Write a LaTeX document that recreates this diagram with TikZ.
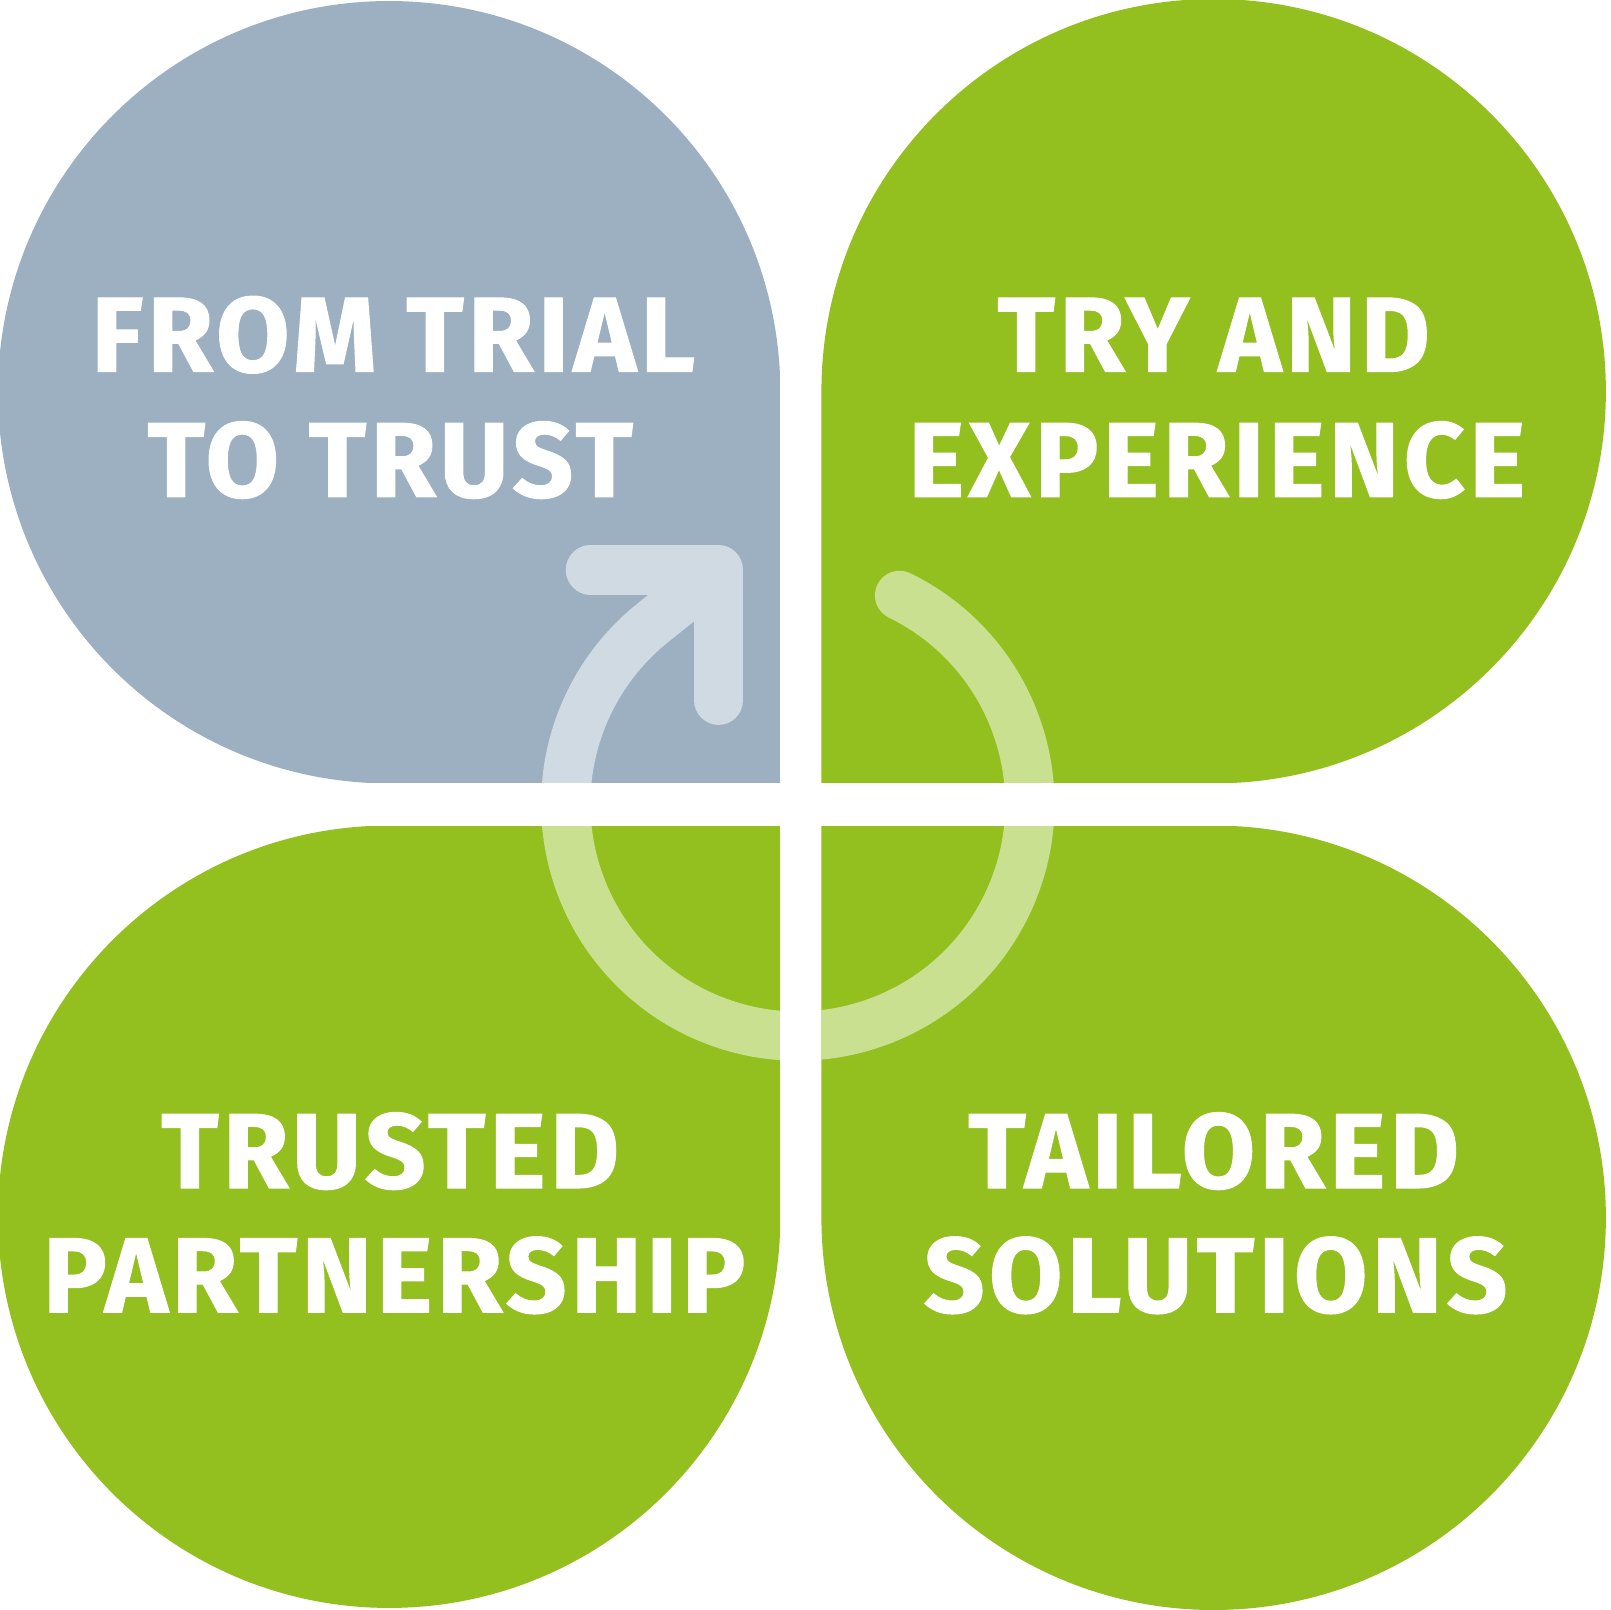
\documentclass[tikz,border=0pt]{standalone}
\usepackage{fontspec}
\setmainfont{Fira Sans}
\usepackage{tikz}
\usetikzlibrary{positioning,calc}
\definecolor{SteelGray}{HTML}{9CB0C1}
\definecolor{PaleSteel}{HTML}{CFDAE3}
\definecolor{LeafGreen}{HTML}{93C01F}
\definecolor{PaleGreen}{HTML}{C9E091}
\tikzset{
	petal/.style={fill=#1,draw=none},
	ringline/.style={line width=0.48cm,draw=#1},
	label/.style={text=white,anchor=base,inner sep=0pt,font=\fontsize{29.5}{34}\bfseries\addfontfeatures{LetterSpace=4,FakeBold=1}}
}

\begin{document}
\begin{tikzpicture}[x=0.01cm,y=0.01cm]
			\useasboundingbox (0,0) rectangle (1568,1568);
			\coordinate (C) at (777,785);
			
			% petals
			\fill[petal=SteelGray] (760,805) -- (760,1186) arc[start angle=0,end angle=270,radius=381] -- cycle;
			\fill[petal=LeafGreen] (800,805) -- (800,1187) arc[start angle=180,end angle=-90,radius=382] -- cycle;
			\fill[petal=LeafGreen] (760,764) -- (760,383) arc[start angle=0,end angle=-270,radius=381] -- cycle;
			\fill[petal=LeafGreen] (800,764) -- (800,382) arc[start angle=180,end angle=450,radius=382] -- cycle;
			
			% ring and arrow
			\draw[ringline=PaleGreen,line cap=round] ($(C)+(64:226)$) arc[start angle=64,end angle=-180,radius=226];
			\coordinate (T) at (700,1013);
			\coordinate (H) at (575,1013);
			\coordinate (V) at (700,886);
			\draw[ringline=PaleSteel] ($(C)+(180:226)$) arc[start angle=180,end angle=128.7,radius=226] -- (T);
			\draw[ringline=PaleSteel,line cap=round,line join=round] (H) -- (T) -- (V);
			
			% gaps
			\fill[white] (760,0) rectangle (800,1568);
			\fill[white] (0,764) rectangle (1568,805);
			
			% labels
			\node[label] (trialA) at (383,1206) {FROM TRIAL};
			\node[label] (trialB) at (380,1084) {TO TRUST};
			\node[label] (tryA) at (1182,1206) {TRY AND};
			\node[label] (tryB) at (1185,1084) {EXPERIENCE};
			\node[label] (trustA) at (380,411) {TRUSTED};
			\node[label] (trustB) at (384,290) {PARTNERSHIP};
			\node[label] (tailA) at (1182,411) {TAILORED};
			\node[label] (tailB) at (1184,290) {SOLUTIONS};
		\end{tikzpicture}
\end{document}
